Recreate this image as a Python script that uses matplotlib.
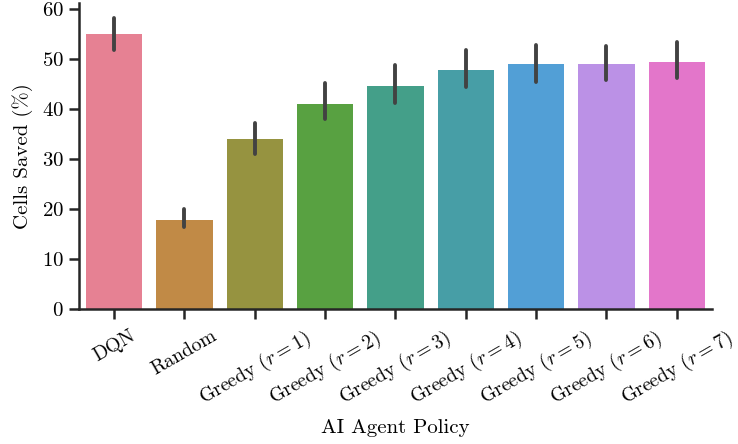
import matplotlib
matplotlib.use("Agg")
import matplotlib.pyplot as plt
import seaborn as sns
import numpy as np

categories = ["DQN", "Random", r"Greedy ($r=1$)", r"Greedy ($r=2$)", r"Greedy ($r=3$)",
              r"Greedy ($r=4$)", r"Greedy ($r=5$)", r"Greedy ($r=6$)", r"Greedy ($r=7$)"]
means = [55.0, 17.9, 34.1, 41.1, 44.6, 47.8, 49.0, 49.1, 49.5]
ci_low = [51.9, 16.4, 31.1, 38.0, 41.2, 44.4, 45.5, 45.8, 46.2]
ci_high = [58.3, 20.1, 37.3, 45.2, 48.9, 51.8, 52.9, 52.6, 53.5]

plt.rcParams["font.family"] = ["cmr10", "DejaVu Serif"]
plt.rcParams["mathtext.fontset"] = "cm"
plt.rcParams["axes.formatter.use_mathtext"] = True
plt.rcParams["axes.unicode_minus"] = False

colors = [sns.desaturate(c, 0.75) for c in sns.color_palette("husl", len(categories))]

fig = plt.figure(figsize=(7.38, 4.44), dpi=100)
ax = fig.add_axes([79/738, 1 - 309/444, (712-79)/738, (309-3)/444])

x = np.arange(len(categories))
ax.bar(x, means, width=0.8, color=colors, edgecolor="none", zorder=2)
ax.vlines(x, ci_low, ci_high, color=".26", linewidth=2.8, capstyle="round", zorder=3)

ax.set_xlim(-0.5, len(categories) - 0.5)
ax.set_ylim(0, 61.2)
ax.set_yticks([0, 10, 20, 30, 40, 50, 60])
ax.set_xticks(x)
ax.set_xticklabels(categories, rotation=30, ha="center", fontsize=14.2)

fs = 15
ax.tick_params(axis="y", labelsize=fs)
ax.tick_params(axis="both", length=7, width=1.8, color=".15", pad=4)
ax.tick_params(axis="x", pad=6)
for s in ["top", "right"]:
    ax.spines[s].set_visible(False)
for s in ["left", "bottom"]:
    ax.spines[s].set_linewidth(1.8)
    ax.spines[s].set_color(".15")

ax.set_ylabel("Cells Saved (%)", fontsize=fs, labelpad=6)
ax.set_xlabel("AI Agent Policy", fontsize=fs, labelpad=6)

fig.savefig("out.png", dpi=100)
